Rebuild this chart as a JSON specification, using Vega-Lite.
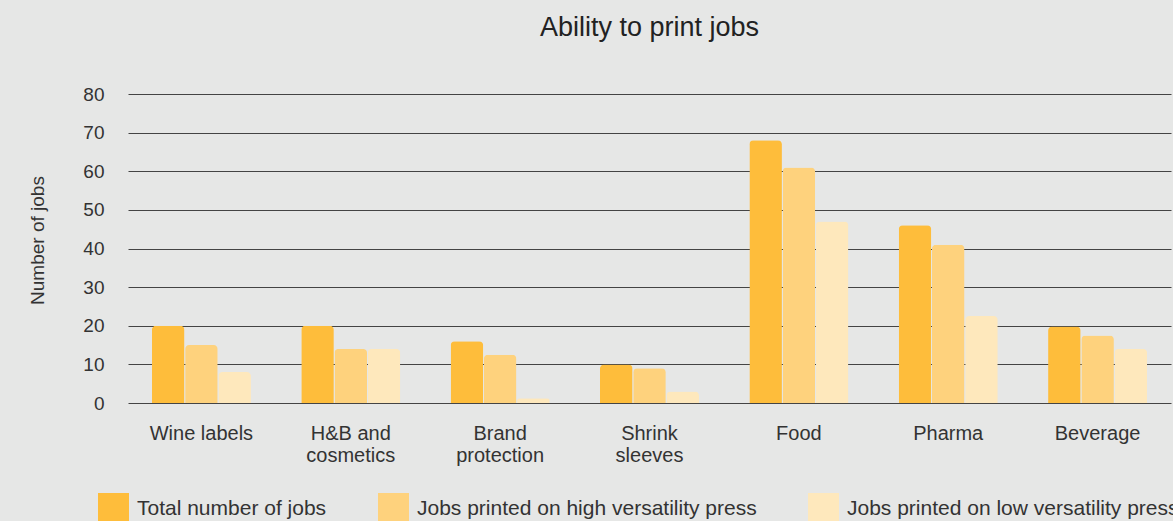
{
  "$schema": "https://vega.github.io/schema/vega-lite/v6.json",
  "autosize": "none",
  "width": 1043,
  "height": 309,
  "padding": {"left": 128, "top": 94, "right": 2, "bottom": 118},
  "background": "#e6e7e6",
  "title": {
    "text": "Ability to print jobs",
    "font": "Liberation Sans",
    "fontSize": 27,
    "fontWeight": "normal",
    "color": "#222222",
    "anchor": "middle",
    "frame": "group",
    "baseline": "alphabetic",
    "offset": 22
  },
  "config": {
    "view": {"stroke": null},
    "font": "Liberation Sans"
  },
  "data": {
    "values": [
      {"category": "Wine labels", "series": "Total number of jobs", "value": 20},
      {"category": "Wine labels", "series": "Jobs printed on high versatility press", "value": 15},
      {"category": "Wine labels", "series": "Jobs printed on low versatility press", "value": 8},
      {"category": "H&B and cosmetics", "series": "Total number of jobs", "value": 20},
      {"category": "H&B and cosmetics", "series": "Jobs printed on high versatility press", "value": 14},
      {"category": "H&B and cosmetics", "series": "Jobs printed on low versatility press", "value": 14},
      {"category": "Brand protection", "series": "Total number of jobs", "value": 16},
      {"category": "Brand protection", "series": "Jobs printed on high versatility press", "value": 12.5},
      {"category": "Brand protection", "series": "Jobs printed on low versatility press", "value": 1.2},
      {"category": "Shrink sleeves", "series": "Total number of jobs", "value": 10},
      {"category": "Shrink sleeves", "series": "Jobs printed on high versatility press", "value": 9},
      {"category": "Shrink sleeves", "series": "Jobs printed on low versatility press", "value": 3},
      {"category": "Food", "series": "Total number of jobs", "value": 68},
      {"category": "Food", "series": "Jobs printed on high versatility press", "value": 61},
      {"category": "Food", "series": "Jobs printed on low versatility press", "value": 47},
      {"category": "Pharma", "series": "Total number of jobs", "value": 46},
      {"category": "Pharma", "series": "Jobs printed on high versatility press", "value": 41},
      {"category": "Pharma", "series": "Jobs printed on low versatility press", "value": 22.5},
      {"category": "Beverage", "series": "Total number of jobs", "value": 19.8},
      {"category": "Beverage", "series": "Jobs printed on high versatility press", "value": 17.5},
      {"category": "Beverage", "series": "Jobs printed on low versatility press", "value": 14}
    ]
  },
  "mark": {"type": "bar", "cornerRadiusTopLeft": 4, "cornerRadiusTopRight": 4},
  "encoding": {
    "x": {
      "field": "category",
      "type": "nominal",
      "sort": ["Wine labels", "H&B and cosmetics", "Brand protection", "Shrink sleeves", "Food", "Pharma", "Beverage"],
      "scale": {"paddingInner": 0.337, "paddingOuter": 0.16},
      "axis": {
        "title": null,
        "labelAngle": 0,
        "domain": false,
        "ticks": false,
        "tickSize": 0,
        "labelPadding": 20,
        "labelFontSize": 20,
        "labelColor": "#333333",
        "labelLineHeight": 22,
        "labelBaseline": "top",
        "labelExpr": "datum.label == 'H&B and cosmetics' ? ['H&B and', 'cosmetics'] : datum.label == 'Brand protection' ? ['Brand', 'protection'] : datum.label == 'Shrink sleeves' ? ['Shrink', 'sleeves'] : datum.label"
      }
    },
    "xOffset": {
      "field": "series",
      "type": "nominal",
      "sort": ["Total number of jobs", "Jobs printed on high versatility press", "Jobs printed on low versatility press"],
      "scale": {"paddingInner": 0.02, "paddingOuter": 0}
    },
    "y": {
      "field": "value",
      "type": "quantitative",
      "scale": {"domain": [0, 80], "nice": false},
      "axis": {
        "title": "Number of jobs",
        "titleFontSize": 19,
        "titleFontWeight": "normal",
        "titleColor": "#333333",
        "titleAngle": -90,
        "titleX": -85,
        "titleY": 146,
        "titleAlign": "center",
        "titleBaseline": "alphabetic",
        "values": [0, 10, 20, 30, 40, 50, 60, 70, 80],
        "domain": false,
        "ticks": false,
        "tickSize": 0,
        "labelPadding": 24,
        "labelFontSize": 19,
        "labelColor": "#333333",
        "grid": true,
        "gridColor": "#444444",
        "gridWidth": 1,
        "gridOpacity": 1
      }
    },
    "color": {
      "field": "series",
      "type": "nominal",
      "sort": ["Total number of jobs", "Jobs printed on high versatility press", "Jobs printed on low versatility press"],
      "scale": {
        "domain": ["Total number of jobs", "Jobs printed on high versatility press", "Jobs printed on low versatility press"],
        "range": ["#febd3b", "#fed27d", "#fee8bc"]
      },
      "legend": {
        "title": null,
        "orient": "none",
        "legendX": -30,
        "legendY": 399,
        "direction": "horizontal",
        "padding": 0,
        "symbolType": "square",
        "symbolSize": 961,
        "symbolStrokeWidth": 0,
        "symbolOpacity": 1,
        "labelFontSize": 21,
        "labelColor": "#333333",
        "labelOffset": 8,
        "labelLimit": 0,
        "columnPadding": 51
      }
    }
  }
}
